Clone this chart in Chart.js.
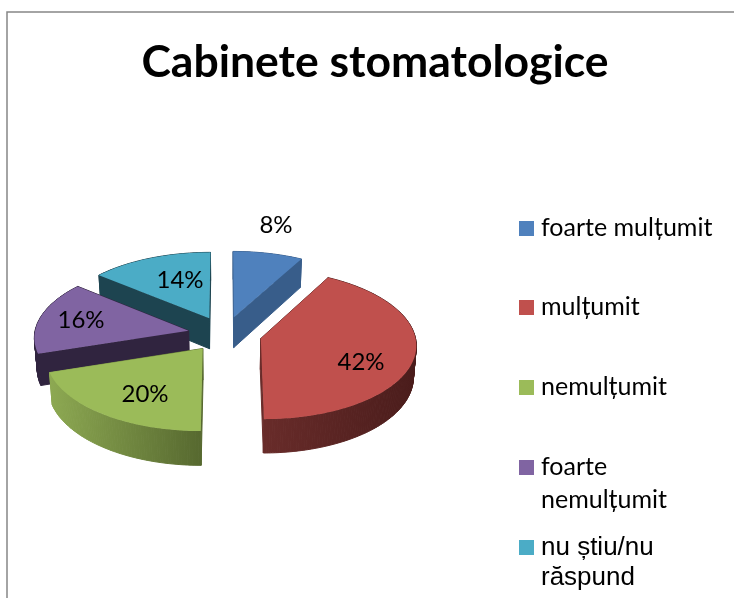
<!DOCTYPE html>
<html><head><meta charset="utf-8">
<style>html,body{margin:0;padding:0;background:#fff;overflow:hidden}#w{position:relative;width:734px;height:598px}</style>
<script src="https://cdn.jsdelivr.net/npm/chart.js@4/dist/chart.umd.min.js"></script>
</head><body><div id="w"><canvas id="c" width="734" height="598"></canvas></div>
<script>
const categories = ['foarte mulțumit','mulțumit','nemulțumit','foarte nemulțumit','nu știu/nu răspund'];
const shares = [8,42,20,16,14];
const topColours = ['#4F81BD','#C0504D','#9BBB59','#8064A2','#4BACC6'];
const sideFrom = ['#385D8A','#692C2A','#8DA952','#30243F','#1D4450'];
const sideTo = ['#385D8A','#4A1C1B','#56682F','#30243F','#1D4450'];
const drawOrder = [0,4,3,1,2];
const labelAt = [[276,225],[361,362],[145,394],[81,320],[180,280]];
const legendRows = [
 {i:0,y:221,lines:[[236,'foarte mulțumit']],font:'"Lato"',size:25},
 {i:1,y:300,lines:[[315,'mulțumit']],font:'"Lato"',size:25},
 {i:2,y:380,lines:[[395,'nemulțumit']],font:'"Lato"',size:25},
 {i:3,y:460,lines:[[475,'foarte'],[508,'nemulțumit']],font:'"Lato"',size:25},
 {i:4,y:540,lines:[[555,'nu știu/nu'],[585,'răspund']],font:'"Liberation Sans"',size:26}
];
const PIE={x:224.8,y:334,k:0.4776,p:0.000517,depth:31,explode:37,shrink:0.985};

function project(u,v){const s=1/(1-PIE.p*v);return {x:PIE.x+u*s,y:PIE.y+PIE.k*v*s,s};}
function lower(p){return {x:PIE.x+(p.x-PIE.x)*PIE.shrink,y:p.y+PIE.depth*p.s};}
function outline(arc,explode){
  const a0=arc.startAngle,a1=arc.endAngle,m=(a0+a1)/2,R=arc.outerRadius;
  const ou=Math.cos(m)*explode,ov=Math.sin(m)*explode,pts=[];
  const n=Math.max(8,Math.ceil((a1-a0)*60));
  pts.push(project(ou,ov));
  for(let i=0;i<=n;i++){const t=a0+(a1-a0)*i/n;pts.push(project(ou+R*Math.cos(t),ov+R*Math.sin(t)));}
  return pts;
}
const pie3d={id:'pie3d',
 beforeDraw(chart){
  const c=chart.ctx;c.save();c.strokeStyle='#868686';c.lineWidth=1.5;
  c.beginPath();c.moveTo(734,12);c.lineTo(7,12);c.lineTo(7,598);c.stroke();c.restore();
 },
 beforeDatasetDraw(chart,args){
  const c=chart.ctx,arcs=args.meta.data;
  drawOrder.forEach(i=>{
   const pts=outline(arcs[i],PIE.explode);
   const xs=pts.map(p=>p.x),x0=Math.min(...xs),x1=Math.max(...xs);
   const g=c.createLinearGradient(x0,0,x1,0);g.addColorStop(0,sideFrom[i]);g.addColorStop(1,sideTo[i]);
   c.save();c.fillStyle=g;c.strokeStyle=g;c.lineWidth=1;
   for(let j=0;j<pts.length;j++){
    const a=pts[j],b=pts[(j+1)%pts.length],la=lower(a),lb=lower(b);
    c.beginPath();c.moveTo(a.x,a.y);c.lineTo(b.x,b.y);
    c.lineTo(lb.x,lb.y);c.lineTo(la.x,la.y);c.closePath();c.fill();c.stroke();
   }
   c.beginPath();pts.forEach((p,j)=>j?c.lineTo(p.x,p.y):c.moveTo(p.x,p.y));c.closePath();
   c.fillStyle=topColours[i];c.fill();c.restore();
  });
  return false;
 },
 afterDraw(chart){
  const c=chart.ctx,total=shares.reduce((a,b)=>a+b,0);
  c.save();c.fillStyle='#000';
  c.textAlign='center';c.font='24px "Lato"';
  shares.forEach((v,i)=>{c.textBaseline='middle';c.fillText(Math.round(v/total*100)+'%',labelAt[i][0],labelAt[i][1]);});
  c.textAlign='left';c.textBaseline='alphabetic';
  legendRows.forEach(r=>{
   c.fillStyle=topColours[r.i];c.fillRect(519,r.y,15,15);
   c.fillStyle='#000';c.font=r.size+'px '+r.font;
   r.lines.forEach(l=>c.fillText(l[1],541,l[0]));
  });
  c.restore();
 }
};
new Chart(document.getElementById('c'),{
 type:'pie',
 data:{labels:categories,datasets:[{data:shares,backgroundColor:topColours,borderWidth:0,offset:PIE.explode}]},
 options:{responsive:false,animation:false,radius:154,
  layout:{padding:{left:16,top:36}},
  plugins:{legend:{display:false},tooltip:{enabled:false},
   title:{display:true,text:'Cabinete stomatologice',color:'#000',font:{family:'"Lato"',size:44.5,weight:'bold'},padding:0}}},
 plugins:[pie3d]
});
</script></body></html>
